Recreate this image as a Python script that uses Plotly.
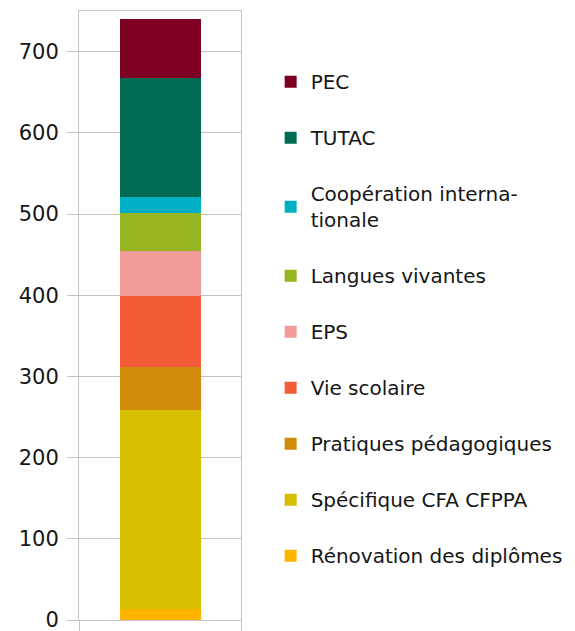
import plotly.graph_objects as go

categories = ["Rénovation des diplômes", "Spécifique CFA CFPPA", "Pratiques pédagogiques",
              "Vie scolaire", "EPS", "Langues vivantes",
              "Coopération interna-<br>tionale", "TUTAC", "PEC"]
values = [13, 246, 52, 88, 56, 46, 20, 146, 73]
colors = ["#FFB400", "#D6BE00", "#CE8A08", "#F35C36", "#F29C9A", "#96B521",
          "#00AFC3", "#006A52", "#7D0022"]
ytick_vals = [0, 100, 200, 300, 400, 500, 600, 700]

FONT = "DejaVu Sans"
GRID = "#C4C4C4"

fig = go.Figure()
n = len(categories)
for i, (name, v, c) in enumerate(zip(categories, values, colors)):
    fig.add_trace(go.Bar(x=[0], y=[v], name=name, marker=dict(color=c, line=dict(width=0)),
                         width=0.5, legendgroup=f"g{i}", legendrank=100 + (n - i)))

fig.update_layout(
    barmode="stack",
    width=567, height=623,
    margin=dict(l=71, r=334, t=3, b=11, autoexpand=False),
    paper_bgcolor="white", plot_bgcolor="white",
    font=dict(family=FONT, size=21, color="#161616"),
    showlegend=True,
    legend=dict(x=1.183, xanchor="left", y=0.916, yanchor="top",
                traceorder="grouped", tracegroupgap=27,
                font=dict(family=FONT, size=20, color="#161616"),
                bgcolor="rgba(0,0,0,0)"),
    xaxis=dict(range=[-0.5, 0.5], tickvals=[-0.5, 0.5], showticklabels=False,
               ticks="outside", ticklen=11, tickcolor=GRID, showgrid=False,
               showline=True, linecolor=GRID, mirror=True, zeroline=False,
               automargin=False),
    yaxis=dict(range=[0, 750], tickvals=ytick_vals, showgrid=True, gridcolor=GRID,
               ticks="outside", ticklen=11, tickcolor=GRID, showline=True, linecolor=GRID,
               mirror=True, zeroline=False, ticklabelstandoff=4, automargin=False,
               ticklabeloverflow="allow",
               tickfont=dict(family=FONT, size=21, color="#161616")),
)
fig.write_html("out.html")
